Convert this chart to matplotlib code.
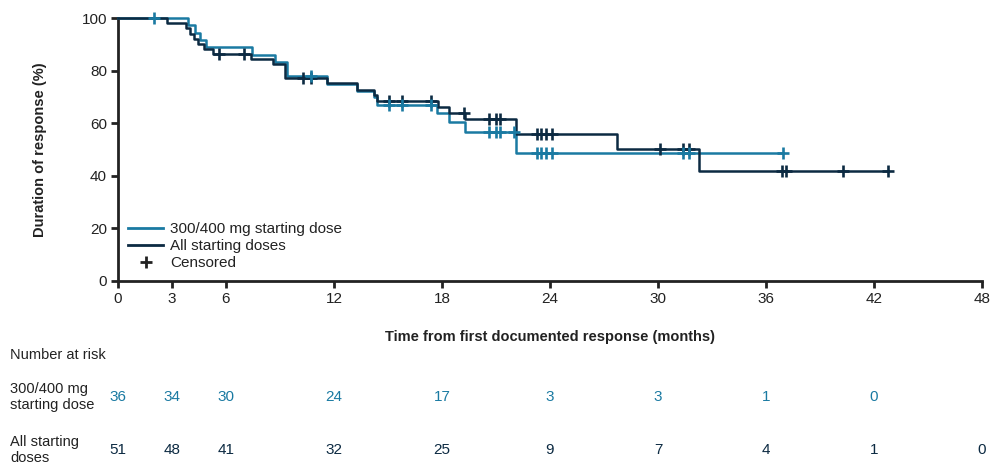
import matplotlib
matplotlib.use("Agg")
import matplotlib.pyplot as plt
from matplotlib.lines import Line2D
import matplotlib.transforms as mtransforms

plt.rcParams['font.family'] = ['Liberation Sans', 'DejaVu Sans']

# ---- data ----
teal_label = "300/400 mg starting dose"
dark_label = "All starting doses"

teal_times = [0, 3.87, 4.28, 4.56, 4.9, 7.43, 8.7, 9.4, 11.6, 13.3, 14.2, 14.4, 17.7, 18.4, 19.3, 22.1]
teal_surv = [100, 97.2, 94.4, 91.7, 88.9, 86.1, 83.3, 78.0, 75.0, 72.4, 70.0, 67.1, 64.0, 60.6, 56.8, 48.5]
teal_end = 36.96
teal_censor = [2.0, 10.7, 15.05, 15.76, 17.4, 20.6, 21.0, 21.2, 22.0, 23.3, 23.5, 23.8, 24.1, 31.4, 31.7, 36.96]

dark_times = [0, 2.74, 3.8, 4.0, 4.2, 4.46, 4.8, 5.3, 7.37, 8.63, 9.28, 11.6, 13.3, 14.2, 14.4, 17.8, 18.4, 19.3, 22.1, 27.7, 32.3]
dark_surv = [100, 98.0, 96.1, 94.1, 92.2, 90.2, 88.2, 86.3, 84.5, 82.4, 77.3, 75.2, 72.8, 70.6, 68.4, 66.2, 63.9, 61.5, 55.9, 50.1, 41.9]
dark_end = 42.8
dark_censor = [5.6, 7.0, 10.3, 10.7, 15.05, 15.76, 17.4, 19.2, 20.6, 21.0, 21.2, 23.3, 23.5, 23.8, 24.1, 30.1, 31.4, 31.7, 36.9, 37.1, 40.3, 42.8]

x_ticks = [0, 3, 6, 12, 18, 24, 30, 36, 42, 48]
y_ticks = [0, 20, 40, 60, 80, 100]

risk_times = [0, 3, 6, 12, 18, 24, 30, 36, 42, 48]
risk_teal = [36, 34, 30, 24, 17, 3, 3, 1, 0]
risk_dark = [51, 48, 41, 32, 25, 9, 7, 4, 1, 0]

TEAL = '#1a7aa2'
DARK = '#0c2a42'
AXC = '#222222'


def surv_at(times, surv, t):
    s = surv[0]
    for ti, si in zip(times, surv):
        if ti <= t:
            s = si
    return s


fig = plt.figure(figsize=(9.92, 4.67), dpi=100)
ax = fig.add_axes([118 / 992, 1 - 281 / 467, 864 / 992, 263 / 467])

tx = teal_times + [teal_end]
ty = teal_surv + [teal_surv[-1]]
dx = dark_times + [dark_end]
dy = dark_surv + [dark_surv[-1]]

ax.step(tx, ty, where='post', color=TEAL, lw=1.8, clip_on=False, zorder=3)
ax.step(dx, dy, where='post', color=DARK, lw=1.8, clip_on=False, zorder=4)

ax.plot(dark_censor, [surv_at(dark_times, dark_surv, t) for t in dark_censor],
        ls='none', marker='+', ms=8.5, mew=1.9, color=DARK, clip_on=False, zorder=5)
ax.plot(teal_censor, [surv_at(teal_times, teal_surv, t) for t in teal_censor],
        ls='none', marker='+', ms=8.5, mew=1.9, color=TEAL, clip_on=False, zorder=6)

ax.set_xlim(0, 48)
ax.set_ylim(0, 100)
ax.set_xticks(x_ticks)
ax.set_yticks(y_ticks)
for s in ['top', 'right']:
    ax.spines[s].set_visible(False)
for s in ['left', 'bottom']:
    ax.spines[s].set_linewidth(2.0)
    ax.spines[s].set_color(AXC)
ax.tick_params(axis='both', length=5, width=2.0, color=AXC, labelsize=11,
               labelcolor=AXC, pad=3)

ax.set_ylabel("Duration of response (%)", fontsize=10.5, fontweight='bold', color=AXC)
ax.yaxis.set_label_coords(-0.082, 0.5)
ax.set_xlabel("Time from first documented response (months)", fontsize=10.5,
              fontweight='bold', color=AXC)
ax.xaxis.set_label_coords(0.5, -0.186)

handles = [Line2D([], [], color=TEAL, lw=2),
           Line2D([], [], color=DARK, lw=2),
           Line2D([], [], ls='none', marker='+', ms=8, mew=2, color=AXC)]
leg = ax.legend(handles, [teal_label, dark_label, "Censored"], loc='lower left',
                bbox_to_anchor=(0.0116, 0.04), frameon=False, fontsize=11,
                handlelength=2.3, handletextpad=0.45, labelspacing=0.2,
                borderpad=0, borderaxespad=0)
for t in leg.get_texts():
    t.set_color(AXC)

# ---- number at risk table ----
narrow = ['Liberation Sans Narrow', 'Liberation Sans', 'DejaVu Sans']
trans = mtransforms.blended_transform_factory(ax.transData, fig.transFigure)
fig.text(10 / 992, 1 - 355 / 467, "Number at risk", fontsize=10.5, family=narrow,
         color=AXC, va='center', ha='left')
fig.text(10 / 992, 1 - 397 / 467, "300/400 mg\nstarting dose", fontsize=10.5,
         family=narrow, color=AXC, va='center', ha='left', linespacing=1.2)
fig.text(10 / 992, 1 - 450 / 467, "All starting\ndoses", fontsize=10.5,
         family=narrow, color=AXC, va='center', ha='left', linespacing=1.2)
for t, n in zip(risk_times, risk_teal):
    ax.text(t, 1 - 397 / 467, str(n), transform=trans, ha='center', va='center',
            fontsize=11, family=narrow, color=TEAL, clip_on=False)
for t, n in zip(risk_times, risk_dark):
    ax.text(t, 1 - 450 / 467, str(n), transform=trans, ha='center', va='center',
            fontsize=11, family=narrow, color=DARK, clip_on=False)

fig.savefig("out.png", dpi=100)
